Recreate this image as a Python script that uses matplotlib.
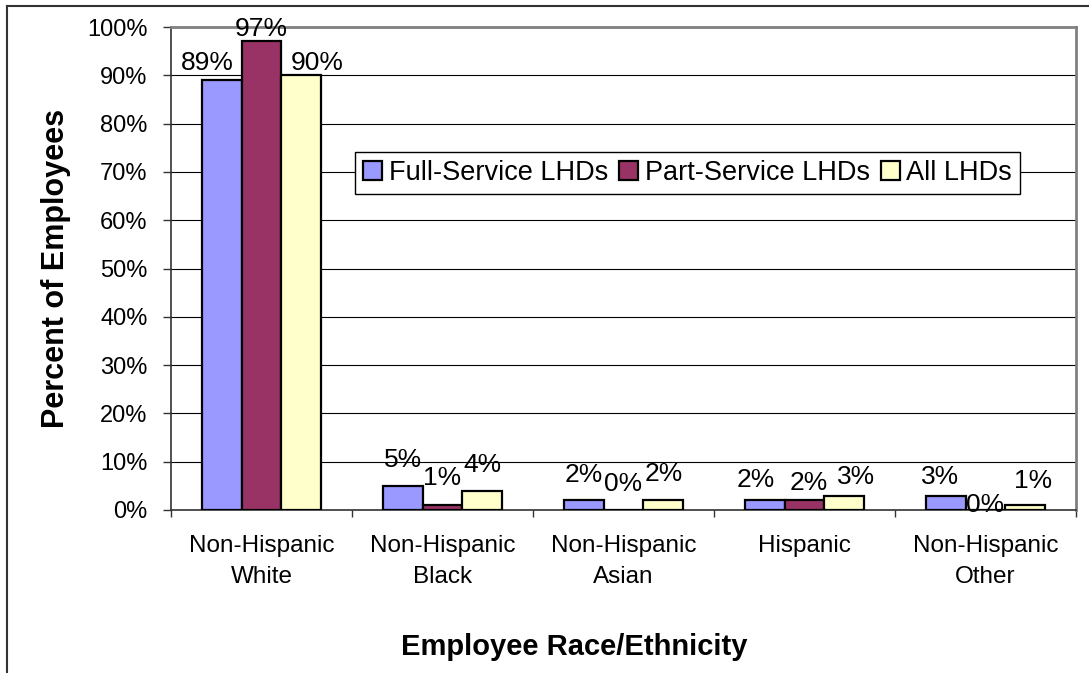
import matplotlib.pyplot as plt
import numpy as np
from matplotlib.lines import Line2D
from matplotlib.ticker import FuncFormatter

plt.rcParams['font.family'] = ['Liberation Sans', 'DejaVu Sans']

groups = ['Non-Hispanic\nWhite', 'Non-Hispanic\nBlack', 'Non-Hispanic\nAsian',
          'Hispanic', 'Non-Hispanic\nOther']
full_service = [89, 5, 2, 2, 3]
part_service = [97, 1, 0, 2, 0]
all_lhds = [90, 4, 2, 3, 1]
series_names = ['Full-Service LHDs', 'Part-Service LHDs', 'All LHDs']
colors = ['#9999FF', '#993366', '#FFFFCC']

# value label nudges in pixels: (sideways, gap above bar top)
label_shift = [[-14, 0, 16], [0, 0, 0], [0, 0, 0], [-9, 4, 12], [-6, 0, 8]]
label_gap = [[10, 5, 5], [19, 20, 19], [18, 19, 19], [13, 10, 12], [12, -2, 17]]


def draw():

    fig = plt.figure(figsize=(10.89, 6.73), dpi=100)
    ax = fig.add_axes([171 / 1089, 1 - 510 / 673, 905 / 1089, 483 / 673])

    x = np.arange(len(groups))
    width = 0.22
    series = [full_service, part_service, all_lhds]

    for i, values in enumerate(series):
        xs = x + (i - 1) * width
        ax.bar(xs, values, width, color=colors[i], edgecolor='black',
               linewidth=1.6, label=series_names[i], zorder=3)
        for j, v in enumerate(values):
            ax.annotate(f'{v}%', (xs[j], v),
                        xytext=(label_shift[j][i] * 0.72, label_gap[j][i] * 0.72),
                        textcoords='offset points', ha='center', va='baseline',
                        fontsize=19, zorder=4)

    ax.set_xlim(-0.5, len(groups) - 0.5)
    ax.set_ylim(0, 100)

    # y axis
    ax.set_yticks(np.arange(0, 101, 10))
    ax.yaxis.set_major_formatter(FuncFormatter(lambda v, p: f'{v:.0f}%'))
    ax.tick_params(axis='y', direction='out', length=6, pad=11, labelsize=17,
                   width=1, color='#333333')
    ax.grid(axis='y', color='black', linewidth=0.8, zorder=0)

    # x axis: ticks at group borders, labels at centres
    ax.set_xticks(np.arange(-0.5, len(groups), 1))
    ax.set_xticklabels([])
    ax.set_xticks(x, minor=True)
    ax.set_xticklabels(groups, minor=True, fontsize=17.5, linespacing=1.55)
    ax.tick_params(axis='x', which='major', direction='out', length=5,
                   width=1, color='#333333')
    ax.tick_params(axis='x', which='minor', length=0, pad=18)

    for side in ['top', 'right']:
        ax.spines[side].set_color('#808080')
        ax.spines[side].set_linewidth(2)
    ax.spines['left'].set_color('#333333')
    ax.spines['left'].set_linewidth(1.2)
    ax.spines['bottom'].set_color('#333333')
    ax.spines['bottom'].set_linewidth(1.2)

    ax.set_ylabel('Percent of Employees', fontsize=22, fontweight='bold',
                  va='center', ha='center')
    ax.yaxis.set_label_coords((56 - 171) / 905, 0.5)
    ax.set_xlabel('Employee Race/Ethnicity', fontsize=21, fontweight='bold',
                  va='baseline', ha='center')
    ax.xaxis.set_label_coords((574 - 171) / 905, (510 - 655) / 483)

    leg = ax.legend(loc='center', bbox_to_anchor=(0.571, 0.698), ncol=3,
                    fontsize=19.5, frameon=True, fancybox=False, framealpha=1,
                    edgecolor='black', handlelength=0.7, handleheight=0.7,
                    handletextpad=0.25, columnspacing=0.4, borderpad=0.3,
                    borderaxespad=0)
    leg.get_frame().set_linewidth(1)
    leg.set_zorder(5)

    # outer chart border
    fx = 7 / 1089
    fy = 1 - 6 / 673
    fig.add_artist(Line2D([fx, fx], [0, fy], color='#333333', linewidth=1.5))
    fig.add_artist(Line2D([fx, 1], [fy, fy], color='#333333', linewidth=1.5))

    fig.savefig('out.png', dpi=100)


draw()
